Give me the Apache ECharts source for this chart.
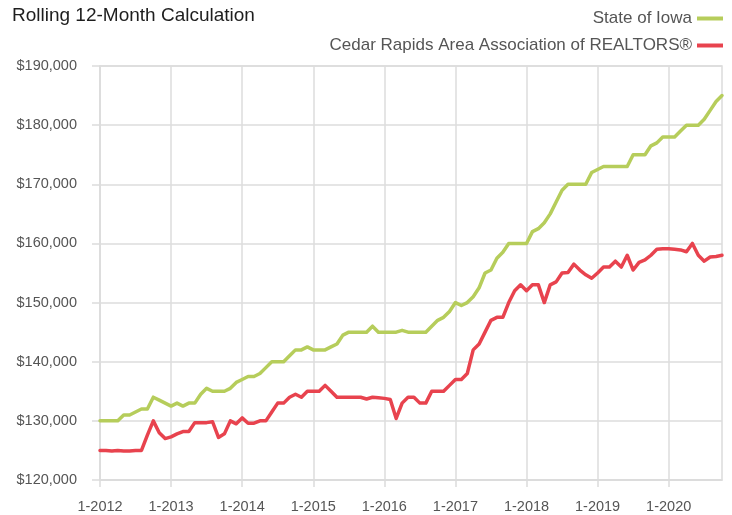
<!DOCTYPE html>
<html>
<head>
<meta charset="utf-8">
<script src="https://cdn.jsdelivr.net/npm/echarts@6/dist/echarts.min.js"></script>
<style>
html,body{margin:0;padding:0;background:#fff;}
#chart{width:732px;height:515px;}
</style>
</head>
<body>
<div id="chart"></div>
<script>
// Month categories 1-2012 .. 10-2020
const startYear = 2012;
const monthCount = 106;
const categories = [];
for (let i = 0; i < monthCount; i++) {
  categories.push(((i % 12) + 1) + '-' + (startYear + Math.floor(i / 12)));
}

const seriesNames = ['State of Iowa', 'Cedar Rapids Area Association of REALTORS®'];

const stateOfIowa = [
  130000,130000,130000,130000,131000,131000,131500,132000,132000,134000,133500,133000,
  132500,133000,132500,133000,133000,134500,135500,135000,135000,135000,135500,136500,
  137000,137500,137500,138000,139000,140000,140000,140000,141000,142000,142000,142500,
  142000,142000,142000,142500,143000,144500,145000,145000,145000,145000,146000,145000,
  145000,145000,145000,145300,145000,145000,145000,145000,146000,147000,147500,148500,
  150000,149500,150000,151000,152500,155000,155500,157500,158500,160000,160000,160000,
  160000,162000,162500,163500,165000,167000,169000,170000,170000,170000,170000,172000,
  172500,173000,173000,173000,173000,173000,175000,175000,175000,176500,177000,178000,
  178000,178000,179000,180000,180000,180000,181000,182500,184000,185000
];

const cedarRapids = [
  125000,125000,124900,125000,124900,124900,125000,125000,127600,130000,128000,127000,
  127300,127800,128200,128200,129700,129700,129700,129850,127200,127800,130000,129500,
  130500,129600,129600,130000,130000,131500,133000,133000,134000,134500,134000,135000,
  135000,135000,136000,135000,134000,134000,134000,134000,134000,133700,134000,133900,
  133800,133600,130400,133000,134000,134000,133000,133000,135000,135000,135000,136000,
  137000,137000,138000,142000,143000,145000,147000,147500,147500,150000,152000,153000,
  152000,153000,153000,150000,153000,153500,155000,155100,156500,155500,154700,154100,
  155000,156000,156000,157000,156000,158000,155500,156800,157200,158000,159000,159100,
  159100,159000,158900,158600,160000,158000,157000,157700,157800,158000
];

const yMin = 120000, yMax = 190000, yStep = 10000;

const gridColor = '#dcdcdc';
const textColor = '#555555';
const font = 'Liberation Sans, Arial, sans-serif';

const chart = echarts.init(document.getElementById('chart'), null, {renderer: 'canvas'});
chart.setOption({
  animation: false,
  backgroundColor: '#ffffff',
  title: {
    text: 'Rolling 12-Month Calculation',
    left: 7, top: 1,
    textStyle: {fontFamily: font, fontSize: 19, fontWeight: 'normal', color: '#1e1e1e'}
  },
  legend: {
    orient: 'vertical',
    right: 4, top: 5,
    align: 'right',
    icon: 'rect',
    itemWidth: 26, itemHeight: 4,
    itemGap: 10,
    textStyle: {fontFamily: font, fontSize: 17, color: textColor},
    data: seriesNames
  },
  grid: {
    left: 100, right: 10, top: 66, bottom: 35,
    show: true, borderColor: gridColor, borderWidth: 1.5,
    containLabel: false
  },
  xAxis: {
    type: 'category',
    data: categories,
    boundaryGap: false,
    axisLine: {show: true, lineStyle: {color: gridColor, width: 1.5}},
    axisTick: {show: true, interval: 11, length: 7, lineStyle: {color: gridColor, width: 1.5}},
    splitLine: {show: true, interval: 11, lineStyle: {color: gridColor, width: 1.5}},
    axisLabel: {interval: 11, margin: 19, fontFamily: font, fontSize: 14.5, color: textColor}
  },
  yAxis: {
    type: 'value',
    min: yMin, max: yMax, interval: yStep,
    axisLine: {show: true, lineStyle: {color: gridColor, width: 1.5}},
    axisTick: {show: true, length: 8, lineStyle: {color: gridColor, width: 1.5}},
    splitLine: {show: true, lineStyle: {color: gridColor, width: 1.5}},
    axisLabel: {
      margin: 23, fontFamily: font, fontSize: 14.5, color: textColor,
      formatter: v => '$' + v.toLocaleString('en-US')
    }
  },
  series: [
    {
      name: seriesNames[0], type: 'line', data: stateOfIowa,
      symbol: 'none', smooth: false,
      itemStyle: {color: '#b6cd5b'},
      lineStyle: {color: '#b6cd5b', width: 3.5, join: 'round', cap: 'round'}
    },
    {
      name: seriesNames[1], type: 'line', data: cedarRapids,
      symbol: 'none', smooth: false,
      itemStyle: {color: '#e8434e'},
      lineStyle: {color: '#e8434e', width: 3.5, join: 'round', cap: 'round'}
    }
  ]
});
</script>
</body>
</html>
